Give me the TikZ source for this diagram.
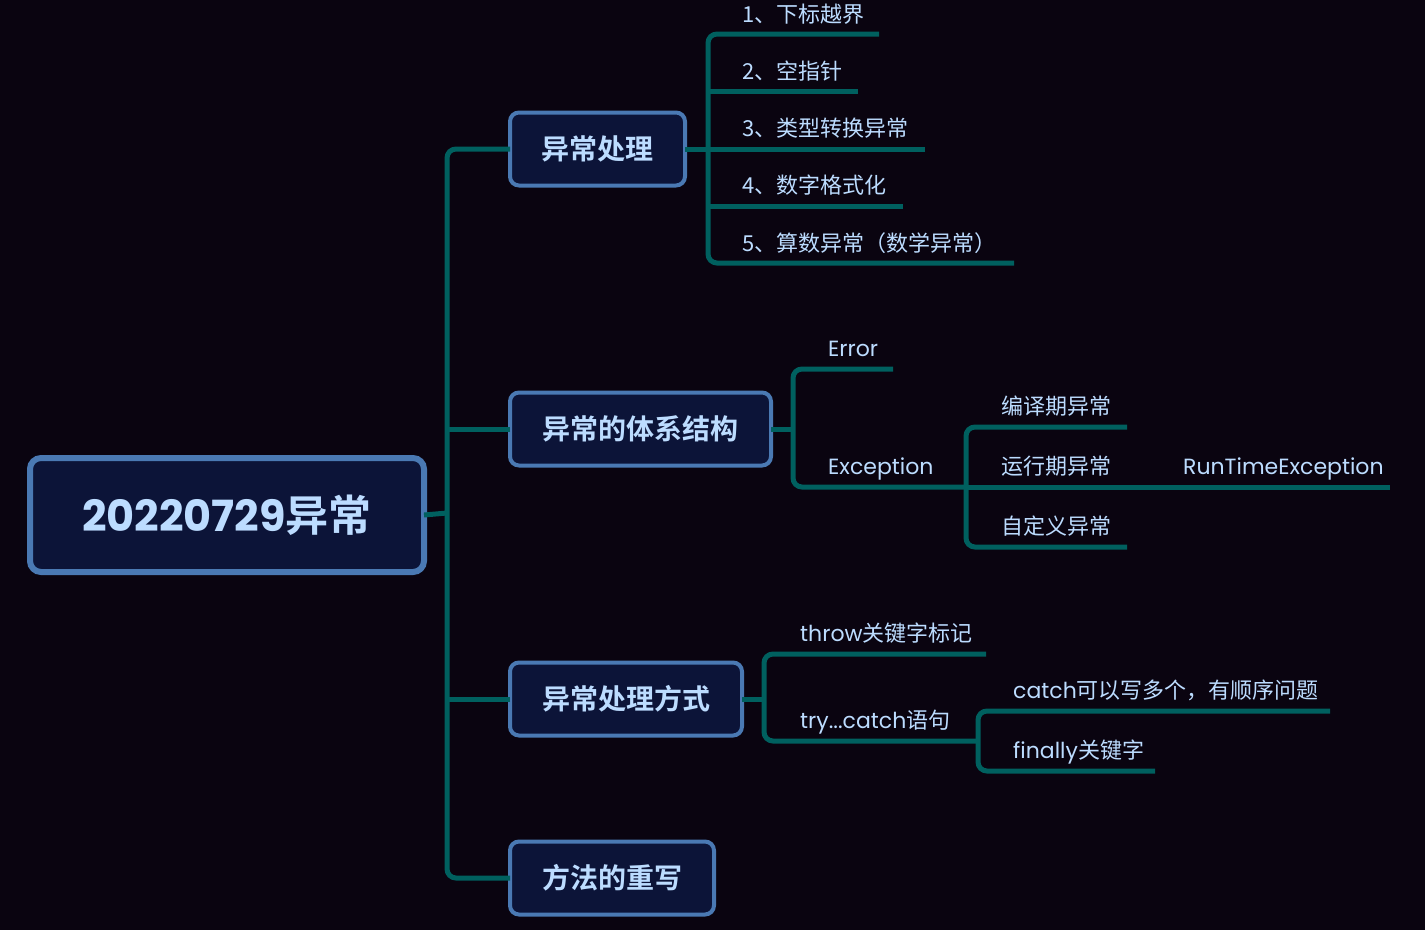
\documentclass[tikz,border=0pt]{standalone}
\usepackage{fontspec}
\setmainfont{Noto Sans CJK SC}
\newfontfamily\lat{Poppins}
\newfontfamily\cjkb{Noto Sans CJK SC Bold}
\definecolor{bg}{HTML}{0A0410}
\definecolor{boxfill}{HTML}{0C1438}
\definecolor{boxline}{HTML}{4A79B3}
\definecolor{txt}{HTML}{BCDCFF}
\definecolor{conn}{HTML}{00605F}
\begin{document}
\begin{tikzpicture}[x=1pt,y=-1pt,
  topbox/.style={draw=boxline,fill=boxfill,line width=4pt,rounded corners=9pt,anchor=west,
     minimum height=73pt,inner sep=0pt,outer sep=0pt,text=txt,font=\cjkb\fontsize{28}{30}\selectfont},
  rootbox/.style={draw=boxline,fill=boxfill,line width=6pt,rounded corners=11pt,outer sep=0pt,
     minimum width=394pt,minimum height=114pt,inner sep=0pt,text=txt,font=\cjkb\fontsize{43}{46}\selectfont},
  leaf/.style={anchor=base west,inner sep=0pt,text=txt,font=\fontsize{22}{24}\selectfont},
  conn/.style={draw=conn,line width=5pt,rounded corners=9pt},
  connst/.style={draw=conn,line width=5pt}]
\fill[bg] (0,0) rectangle (1425,930);
\useasboundingbox (0,0) rectangle (1425,930);

% root and level-1 boxes
\node[rootbox] (root) at (227,515) {{\lat\bfseries 20220729}异常};
\node[topbox,minimum width=175pt] (b1) at (510,149) {异常处理};
\node[topbox,minimum width=261pt] (b2) at (510,429) {异常的体系结构};
\node[topbox,minimum width=232pt] (b3) at (510,699) {异常处理方式};
\node[topbox,minimum width=204pt] (b4) at (510,878) {方法的重写};

% trunk
\coordinate (tk1) at (447,149);
\coordinate (tk4) at (447,878);
\draw[conn] (b1.west) -- (tk1) -- (tk4) -- (b4.west);
\draw[connst] (root.east) -- (447,513);
\draw[connst] (b2.west) -- (447,429);
\draw[connst] (b3.west) -- (447,699);

% 异常处理 children
\node[leaf] (a1) at (742,22) {1{、}下标越界};
\node[leaf] (a2) at (742,79) {2{、}空指针};
\node[leaf] (a3) at (742,136) {3{、}类型转换异常};
\node[leaf] (a4) at (742,193) {4{、}数字格式化};
\node[leaf] (a5) at (742,251) {5{、}算数异常（数学异常）};
\coordinate (e1) at (879,34);
\coordinate (e2) at (858,91);
\coordinate (e3) at (925,149);
\coordinate (e4) at (903,206);
\coordinate (e5) at (1014,263);
\draw[conn] (e1) -- (708,34) -- (708,263) -- (e5);
\draw[connst] (708,91) -- (e2);
\draw[connst] (b1.east) -- (e3);
\draw[connst] (708,206) -- (e4);

% 体系结构 children
\node[leaf] (err) at (828,356) {\lat Error};
\node[leaf] (exc) at (828,474) {\lat Exception};
\coordinate (eErr) at (893,369);
\coordinate (eExc) at (966,487);
\draw[conn] (eErr) -- (793,369) -- (793,487) -- (eExc);
\draw[connst] (b2.east) -- (793,429);

\node[leaf] (c1) at (1001,414) {编译期异常};
\node[leaf] (c2) at (1001,474) {运行期异常};
\node[leaf] (c3) at (1001,534) {自定义异常};
\node[leaf] (rte) at (1183,474) {\lat RunTimeException};
\coordinate (ec1) at (1127,427);
\coordinate (ec3) at (1127,547);
\coordinate (erte) at (1390,487);
\draw[conn] (ec1) -- (966,427) -- (966,547) -- (ec3);
\draw[connst] (eExc) -- (erte);

% 处理方式 children
\node[leaf] (thr) at (800,641) {{\lat throw}关键字标记};
\node[leaf] (try) at (800,728) {{\lat try...catch}语句};
\coordinate (ethr) at (986,654);
\coordinate (etry) at (978,741);
\draw[conn] (ethr) -- (764,654) -- (764,741) -- (etry);
\draw[connst] (b3.east) -- (764,699);

\node[leaf] (cat) at (1013,698) {{\lat catch}可以写多个，有顺序问题};
\node[leaf] (fin) at (1013,758) {{\lat finally}关键字};
\coordinate (ecat) at (1330,711);
\coordinate (efin) at (1155,771);
\draw[conn] (ecat) -- (978,711) -- (978,771) -- (efin);
\end{tikzpicture}
\end{document}
